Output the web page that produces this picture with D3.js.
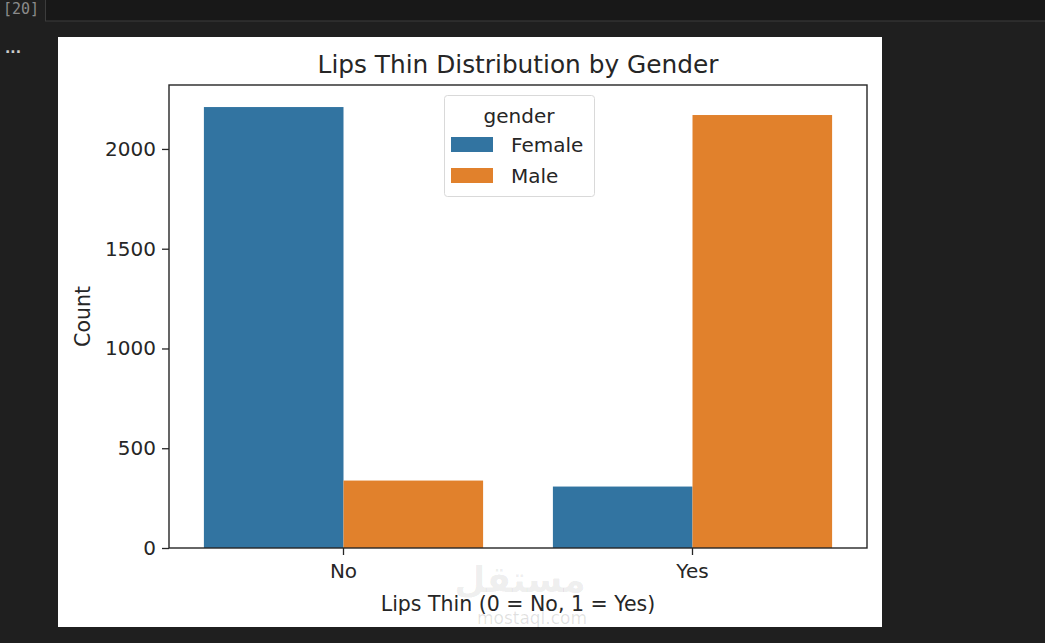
<!DOCTYPE html>
<html><head><meta charset="utf-8">
<script src="https://cdn.jsdelivr.net/npm/d3@7"></script>
<style>
html,body{margin:0;padding:0;background:#1f1f1f;overflow:hidden;}
svg{display:block;font-family:"DejaVu Sans",sans-serif;}
</style></head>
<body>
<svg id="c" width="1045" height="643"></svg>
<script>
const categories = ["No", "Yes"];
const seriesNames = ["Female", "Male"];
const femaleCounts = [2210, 308];
const maleCounts = [338, 2170];
const yTicks = [0, 500, 1000, 1500, 2000];
const colors = ["#3274a1", "#e1812c"];

const svg = d3.select("#c");
// notebook chrome
svg.append("rect").attr("x",0).attr("y",0).attr("width",1045).attr("height",643).attr("fill","#1f1f1f");
svg.append("rect").attr("x",45.5).attr("y",-1).attr("width",1001).attr("height",22).attr("fill","#181818").attr("stroke","#3c3c3c");
svg.append("text").attr("x",3).attr("y",14).attr("font-size",15).attr("fill","#8b8b8b").attr("font-family","DejaVu Sans Mono, monospace").text("[20]");
svg.append("text").attr("x",5).attr("y",53).attr("font-size",14).attr("font-weight","bold").attr("fill","#cccccc").text("...");

// figure
svg.append("rect").attr("x",58).attr("y",37).attr("width",824).attr("height",590).attr("fill","#ffffff");

const m = {left:169, right:867, top:85, bottom:548};
const yMax = Math.max(...femaleCounts, ...maleCounts) * 1.05;
const y = d3.scaleLinear().domain([0, yMax]).range([m.bottom, m.top]);
const x = d3.scaleBand().domain(categories).range([m.left, m.right]).paddingInner(0.2).paddingOuter(0.1);
const xs = d3.scaleBand().domain(seriesNames).range([0, x.bandwidth()]);

const data = [femaleCounts, maleCounts];
const g = svg.append("g");
seriesNames.forEach((s, si) => {
  g.selectAll(".b"+si).data(categories).enter().append("rect")
    .attr("x", c => x(c) + xs(s))
    .attr("y", (c, i) => y(data[si][i]))
    .attr("width", xs.bandwidth())
    .attr("height", (c, i) => y(0) - y(data[si][i]))
    .attr("fill", colors[si]);
});

// axes
const yAxis = d3.axisLeft(y).tickValues(yTicks).tickSize(7).tickPadding(6).tickFormat(d3.format("d"));
const ya = svg.append("g").attr("transform",`translate(${m.left},0)`).call(yAxis);
const xAxis = d3.axisBottom(x).tickSize(7).tickPadding(9);
const xa = svg.append("g").attr("transform",`translate(0,${m.bottom})`).call(xAxis);
[ya, xa].forEach(a => {
  a.select(".domain").remove();
  a.selectAll("line").attr("stroke","#262626").attr("stroke-width",1.3);
  a.selectAll("text").attr("font-size",20).attr("fill","#262626").attr("font-family","DejaVu Sans");
});
svg.append("rect").attr("x",m.left).attr("y",m.top).attr("width",m.right-m.left).attr("height",m.bottom-m.top)
  .attr("fill","none").attr("stroke","#262626").attr("stroke-width",1.4);

// titles
svg.append("text").attr("x",(m.left+m.right)/2).attr("y",73).attr("text-anchor","middle").attr("font-size",24.8).attr("fill","#262626").text("Lips Thin Distribution by Gender");
svg.append("text").attr("x",(m.left+m.right)/2).attr("y",611).attr("text-anchor","middle").attr("font-size",20.5).attr("fill","#262626").text("Lips Thin (0 = No, 1 = Yes)");
svg.append("text").attr("transform",`translate(90,${(m.top+m.bottom)/2}) rotate(-90)`).attr("text-anchor","middle").attr("font-size",20.5).attr("fill","#262626").text("Count");

// legend
const lg = svg.append("g").attr("transform","translate(444,95)");
lg.append("rect").attr("x",0.5).attr("y",0.5).attr("width",150).attr("height",101).attr("rx",3).attr("fill","#ffffff").attr("fill-opacity",0.8).attr("stroke","#d9d9d9");
lg.append("text").attr("x",75).attr("y",28).attr("text-anchor","middle").attr("font-size",20).attr("fill","#262626").text("gender");
seriesNames.forEach((s, i) => {
  lg.append("rect").attr("x",7).attr("y",42 + i*31).attr("width",42).attr("height",15).attr("fill",colors[i]);
  lg.append("text").attr("x",67).attr("y",57 + i*31).attr("font-size",20).attr("fill","#262626").text(s);
});

// watermark
svg.append("text").attr("x",520).attr("y",592).attr("text-anchor","middle").attr("font-size",36).attr("font-weight","bold").attr("fill","#000").attr("fill-opacity",0.07).attr("font-family","Noto Sans, DejaVu Sans").text("مستقل");
svg.append("text").attr("x",532).attr("y",624).attr("text-anchor","middle").attr("font-size",17).attr("fill","#000").attr("fill-opacity",0.12).text("mostaql.com");
</script>
</body></html>
